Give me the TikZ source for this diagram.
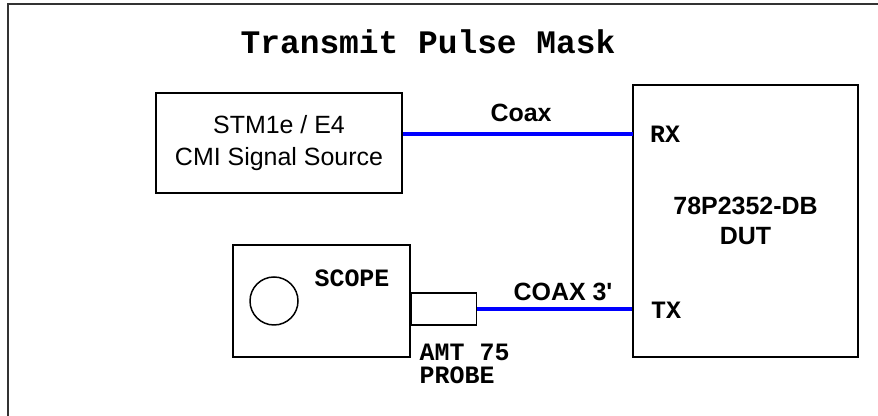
\documentclass[tikz,border=0pt]{standalone}
\usepackage{fontspec}
\setmainfont{Liberation Sans}[Ligatures=TeXOff]
\newfontfamily\courfont{Liberation Mono}
\usetikzlibrary{positioning,calc}

\begin{document}
\begin{tikzpicture}[
  x=1cm, y=1cm,
  unit/.style={draw, line width=0.85pt, inner sep=0pt, align=center},
  coaxline/.style={draw=blue, line width=2.3pt},
  sanslbl/.style={font=\fontsize{14.2}{18.7}\selectfont},
  sansbold/.style={font=\fontsize{14.2}{17}\selectfont\bfseries, align=center},
  monolbl/.style={font=\fontsize{14.2}{13}\selectfont\courfont\bfseries, align=left}]

\useasboundingbox (0,0) rectangle (17.56,8.32);

% ================= frame and title ========================================
% the frame runs on past the page at right and bottom
\draw[line width=1pt, black!80] (0.16,0) |- (17.56,8.24);
\node[font=\fontsize{18.7}{20}\selectfont\courfont\bfseries] (title) at (8.56,7.48)
  {Transmit Pulse Mask};

% ================= source and DUT =========================================
\node[unit, sanslbl, minimum width=4.92cm, minimum height=2.0cm] (src) at (5.58,5.46)
  {STM1e / E4\\CMI Signal Source};
\node[unit, sansbold, minimum width=4.5cm, minimum height=5.44cm] (dut) at (14.91,3.90)
  {78P2352-DB\\DUT};

\coordinate (rxpin) at (12.66,5.64);
\node[monolbl] (rx) at (13.30,5.64) {RX};
\draw[coaxline] (src.east |- rxpin) -- (rxpin);
\node[sansbold] (coaxlbl) at (10.42,6.06) {Coax};

% ================= scope and probe ========================================
\node[unit, minimum width=3.54cm, minimum height=2.24cm] (scope) at (6.43,2.30) {};
\node[draw, circle, line width=0.85pt, minimum size=0.96cm, inner sep=0pt] (screen) at (5.48,2.30) {};
\node[monolbl] (scopelbl) at (7.04,2.76) {SCOPE};
\node[unit, minimum width=1.3cm, minimum height=0.64cm, anchor=west] (probe)
  at ($(scope.east)+(0,-0.16)$) {};
\node[monolbl, anchor=west] (probelbl) at (8.27,1.05) {AMT 75\\PROBE};

\coordinate (txpin) at (dut.west |- probe.east);
\node[monolbl] (tx) at (13.32,2.12) {TX};
\draw[coaxline] (probe.east) -- (txpin);
\node[sansbold] (coax3lbl) at (11.26,2.48) {COAX 3'};

\end{tikzpicture}
\end{document}
